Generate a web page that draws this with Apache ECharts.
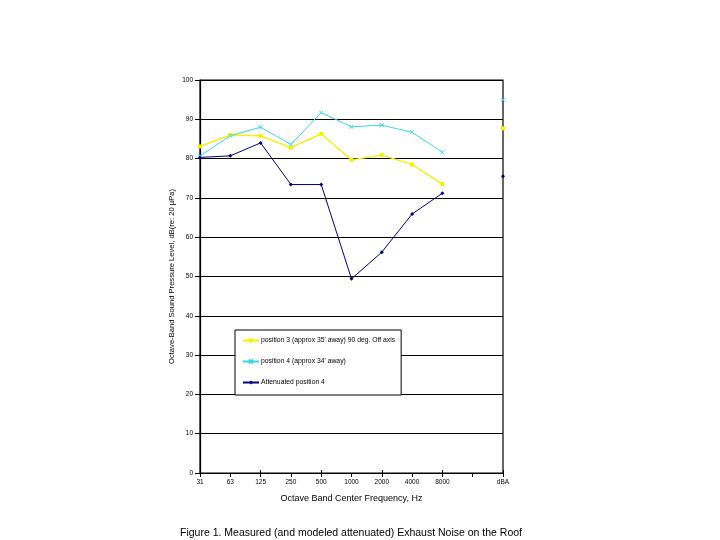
<!DOCTYPE html>
<html>
<head>
<meta charset="utf-8">
<script src="https://cdn.jsdelivr.net/npm/echarts@6/dist/echarts.min.js"></script>
<style>html,body{margin:0;padding:0;background:#fff;}#c{width:720px;height:540px;}</style>
</head>
<body>
<div id="c"></div>
<script>
const categories = ['31','63','125','250','500','1000','2000','4000','8000','','dBA'];
const position3 = [83.1, 86.0, 85.8, 82.8, 86.3, 79.7, 80.9, 78.5, 73.5, null, 87.7];
const position4 = [80.7, 85.8, 88.0, 83.6, 91.7, 88.1, 88.5, 86.7, 81.6, null, 95.0];
const attenuated4 = [80.3, 80.7, 84.0, 73.4, 73.4, 49.4, 56.2, 65.9, 71.2, null, 75.5];
const seriesNames = [
  "position 3 (approx 35' away) 90 deg. Off axis",
  "position 4 (approx 34' away)",
  "Attenuated position 4"
];
const yTicks = { min: 0, max: 100, interval: 10 };

const font = 'Liberation Sans, Arial, sans-serif';
const xPath = 'path://M0,0L10,10M10,0L0,10';
const chart = echarts.init(document.getElementById('c'), null, {renderer: 'canvas'});
chart.setOption({
  backgroundColor: '#ffffff',
  animation: false,
  textStyle: { fontFamily: font },
  title: {
    text: 'Figure 1. Measured (and modeled attenuated) Exhaust Noise on the Roof',
    left: 175, top: 523,
    textStyle: { fontSize: 10.5, fontWeight: 'normal', color: '#000', fontFamily: font }
  },
  grid: { left: 200, right: 217, top: 80, bottom: 67, show: true, borderColor: '#000', borderWidth: 1.2, backgroundColor: 'transparent' },
  legend: {
    orient: 'vertical',
    left: 235, top: 330,
    backgroundColor: '#fff',
    borderColor: '#000', borderWidth: 1,
    padding: [7, 6, 9, 7],
    itemGap: 14,
    itemWidth: 16, itemHeight: 5,
    textStyle: { fontSize: 6.8, color: '#000', fontFamily: font, padding: [0, 0, 0, -3] },
    data: seriesNames
  },
  xAxis: [{
    type: 'category',
    data: categories,
    boundaryGap: false,
    name: 'Octave Band Center Frequency, Hz',
    nameLocation: 'middle',
    nameGap: 21,
    nameTextStyle: { fontSize: 9, color: '#000', fontFamily: font },
    axisLine: { lineStyle: { color: '#000', width: 1.2 } },
    axisTick: { show: true, length: 4, lineStyle: { color: '#000' } },
    axisLabel: { fontSize: 6.5, color: '#000', margin: 6, fontFamily: font },
    splitLine: { show: false }
  }, {
    type: 'category',
    data: categories,
    boundaryGap: false,
    position: 'bottom',
    axisLine: { show: false },
    axisTick: { show: true, inside: true, length: 3, lineStyle: { color: '#000' } },
    axisLabel: { show: false },
    splitLine: { show: false }
  }],
  yAxis: {
    type: 'value',
    min: yTicks.min, max: yTicks.max, interval: yTicks.interval,
    name: 'Octave-Band Sound Pressure Level, dB(re: 20 µPa)',
    nameLocation: 'middle',
    nameGap: 24,
    nameRotate: 90,
    nameTextStyle: { fontSize: 7.6, color: '#000', fontFamily: font },
    axisLine: { show: true, lineStyle: { color: '#000', width: 1.2 } },
    axisTick: { show: true, length: 5, lineStyle: { color: '#000' } },
    axisLabel: { fontSize: 6.5, color: '#000', margin: 7, fontFamily: font },
    splitLine: { show: true, lineStyle: { color: '#000', width: 1.2 } }
  },
  series: [
    {
      name: seriesNames[0], type: 'line', data: position3,
      connectNulls: false,
      symbol: 'rect', symbolSize: 4,
      lineStyle: { color: '#f2f200', width: 1.3 },
      itemStyle: { color: '#f2f200' }
    },
    {
      name: seriesNames[1], type: 'line', data: position4,
      connectNulls: false,
      symbol: xPath, symbolSize: 4,
      lineStyle: { color: '#3cd8e4', width: 1 },
      itemStyle: { color: '#3cd8e4', borderColor: '#3cd8e4', borderWidth: 1 }
    },
    {
      name: seriesNames[2], type: 'line', data: attenuated4,
      connectNulls: false,
      symbol: 'diamond', symbolSize: 4,
      lineStyle: { color: '#000080', width: 1 },
      itemStyle: { color: '#000080' }
    }
  ]
});
</script>
</body>
</html>
